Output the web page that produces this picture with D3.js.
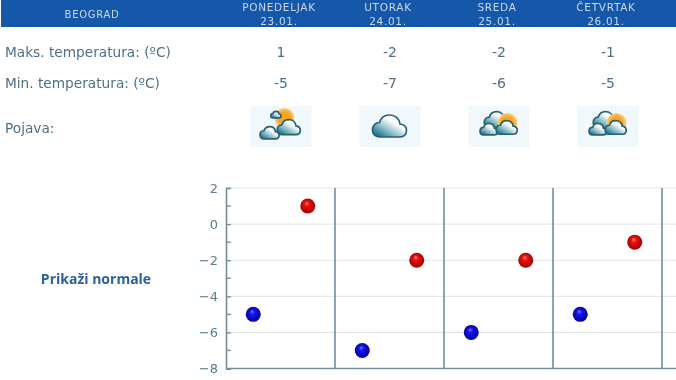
<!DOCTYPE html>
<html>
<head>
<meta charset="utf-8">
<script src="https://cdn.jsdelivr.net/npm/d3@7"></script>
<style>
    html, body { margin: 0; padding: 0; background: #fff; overflow: hidden; }
    svg { display: block; filter: blur(0.4px); }
    text { font-family: "DejaVu Sans", sans-serif; }
</style>
</head>
<body>
<div id="chart-container"></div>
<script>
// Data
const city = 'BEOGRAD';
const days = ['PONEDELJAK', 'UTORAK', 'SREDA', 'ČETVRTAK'];
const dates = ['23.01.', '24.01.', '25.01.', '26.01.'];
const maxTemps = [1, -2, -2, -1];
const minTemps = [-5, -7, -6, -5];
const icons = ['small', 'cloud', 'sun', 'sun'];
const rowLabels = ['Maks. temperatura: (ºC)', 'Min. temperatura: (ºC)', 'Pojava:'];
const yTicks = [2, 0, -2, -4, -6, -8];
const yMinorTicks = [1, -1, -3, -5, -7];

function createChart(elementId) {
    const width = 676;
    const height = 380;

    const svg = d3.select(elementId)
        .append('svg')
        .attr('width', width)
        .attr('height', height);

    const defs = svg.append('defs');

    // Gradients for the dots and the weather icons
    function ball(id, light, mid, dark) {
        const grad = defs.append('radialGradient')
            .attr('id', id)
            .attr('cx', '50%').attr('cy', '50%').attr('r', '55%')
            .attr('fx', '42%').attr('fy', '30%');
        grad.append('stop').attr('offset', '0%').attr('stop-color', light);
        grad.append('stop').attr('offset', '30%').attr('stop-color', mid);
        grad.append('stop').attr('offset', '100%').attr('stop-color', dark);
    }
    ball('ball-red', '#ff8a7a', '#ee1010', '#980000');
    ball('ball-blue', '#7a7aff', '#1414ee', '#000090');

    const cloudGrad = defs.append('linearGradient')
        .attr('id', 'cloud-fill')
        .attr('x1', '10%').attr('y1', '95%').attr('x2', '75%').attr('y2', '25%');
    cloudGrad.append('stop').attr('offset', '0%').attr('stop-color', '#0b6f86');
    cloudGrad.append('stop').attr('offset', '45%').attr('stop-color', '#8fc0cc');
    cloudGrad.append('stop').attr('offset', '85%').attr('stop-color', '#ffffff');

    const sunGrad = defs.append('radialGradient').attr('id', 'sun-fill');
    sunGrad.append('stop').attr('offset', '60%').attr('stop-color', '#f5a623');
    sunGrad.append('stop').attr('offset', '100%').attr('stop-color', '#fbd28a');

    // Shared scales, the table columns sit on the same bands as the plot
    const xScale = d3.scaleBand()
        .domain(days)
        .range([226, 662]);

    const yScale = d3.scaleLinear()
        .domain([-8, 2])
        .range([368.5, 188]);

    // Header strip
    svg.append('rect')
        .attr('x', 1)
        .attr('y', 0)
        .attr('width', width - 1)
        .attr('height', 27)
        .attr('fill', '#1557a8');

    svg.append('text')
        .attr('x', 92)
        .attr('y', 18)
        .attr('text-anchor', 'middle')
        .attr('fill', '#c9d8ea')
        .style('font-size', '10px')
        .style('letter-spacing', '0.7px')
        .text(city);

    const header = svg.selectAll('.day')
        .data(days)
        .enter()
        .append('text')
        .attr('class', 'day')
        .attr('text-anchor', 'middle')
        .attr('fill', '#c9d8ea')
        .style('font-size', '10.5px')
        .style('letter-spacing', '0.7px');

    header.append('tspan')
        .attr('x', d => xScale(d) + xScale.bandwidth() / 2 - 1.5)
        .attr('y', 11)
        .text(d => d);

    header.append('tspan')
        .attr('x', d => xScale(d) + xScale.bandwidth() / 2 - 1.5)
        .attr('y', 25)
        .text((d, i) => dates[i]);

    // Table rows
    const rowY = [57, 88, 133];
    svg.selectAll('.row-label')
        .data(rowLabels)
        .enter()
        .append('text')
        .attr('class', 'row-label')
        .attr('x', 5)
        .attr('y', (d, i) => rowY[i])
        .attr('fill', '#4f6f86')
        .style('font-size', '13.7px')
        .text(d => d);

    [maxTemps, minTemps].forEach((values, r) => {
        svg.selectAll(`.value-${r}`)
            .data(values)
            .enter()
            .append('text')
            .attr('class', `value-${r}`)
            .attr('x', (d, i) => xScale(days[i]) + xScale.bandwidth() / 2 + 0.5)
            .attr('y', rowY[r])
            .attr('text-anchor', 'middle')
            .attr('fill', '#4f6f86')
            .style('font-size', '14px')
            .text(d => d);
    });

    // Weather icons
    const cloudPath = 'M8 23C3 23 1 19.5 1 16C1 11.5 4 8.5 8 8.5C9.5 3.5 13 1 18 1C24 1 28 5 28.5 10C32.5 10.5 35 13 35 16.5C35 20.5 32 23 28 23Z';

    function drawCloud(g, x, y, scale) {
        g.append('path')
            .attr('d', cloudPath)
            .attr('transform', `translate(${x},${y}) scale(${scale})`)
            .attr('fill', 'url(#cloud-fill)')
            .attr('stroke', '#2c5f70')
            .attr('stroke-width', 1.7 / scale);
    }

    function drawSun(g, x, y, r) {
        g.append('circle')
            .attr('cx', x)
            .attr('cy', y)
            .attr('r', r)
            .attr('fill', 'url(#sun-fill)');
    }

    const iconGroups = svg.selectAll('.icon')
        .data(icons)
        .enter()
        .append('g')
        .attr('class', 'icon')
        .attr('transform', (d, i) => `translate(${xScale(days[i]) + xScale.bandwidth() / 2 + 0.5 - 30.5},106)`);

    iconGroups.append('rect')
        .attr('width', 61)
        .attr('height', 41)
        .attr('fill', '#f0f8fb');

    iconGroups.each(function(d) {
        const g = d3.select(this);
        if (d === 'cloud') {
            drawCloud(g, 12, 8, 1);
        } else if (d === 'small') {
            drawSun(g, 34, 12, 10);
            drawCloud(g, 20, 5, 0.3);
            drawCloud(g, 26, 13, 0.68);
            drawCloud(g, 9, 20, 0.56);
        } else {
            drawCloud(g, 15, 5, 0.72);
            drawSun(g, 39, 17, 10);
            drawCloud(g, 11, 17, 0.52);
            drawCloud(g, 27, 14, 0.62);
        }
    });

    // Link on the left of the plot
    svg.append('text')
        .attr('x', 96)
        .attr('y', 284)
        .attr('text-anchor', 'middle')
        .attr('fill', '#2a6299')
        .style('font-size', '14px')
        .style('font-weight', 'bold')
        .style('font-family', '"Open Sans", sans-serif')
        .text('Prikaži normale');

    // Gridlines
    svg.selectAll('.grid')
        .data(yTicks)
        .enter()
        .append('line')
        .attr('class', 'grid')
        .attr('x1', xScale.range()[0])
        .attr('x2', width)
        .attr('y1', d => yScale(d))
        .attr('y2', d => yScale(d))
        .attr('stroke', '#dde4e8')
        .attr('stroke-width', 1);

    // Day dividers
    svg.selectAll('.divider')
        .data(days)
        .enter()
        .append('line')
        .attr('class', 'divider')
        .attr('x1', d => xScale(d) + xScale.bandwidth())
        .attr('x2', d => xScale(d) + xScale.bandwidth())
        .attr('y1', yScale(2))
        .attr('y2', yScale(-8))
        .attr('stroke', '#6f8ea3')
        .attr('stroke-width', 1.6);

    // Bottom line
    svg.append('line')
        .attr('x1', xScale.range()[0])
        .attr('x2', width)
        .attr('y1', yScale(-8))
        .attr('y2', yScale(-8))
        .attr('stroke', '#6f8ea3')
        .attr('stroke-width', 1.6);

    // Y axis, ticks point into the plot
    const yAxis = svg.append('g')
        .attr('class', 'y-axis')
        .attr('transform', `translate(${xScale.range()[0]},0)`)
        .call(d3.axisLeft(yScale).tickValues(yTicks).tickSize(-5).tickPadding(8));

    yAxis.selectAll('.domain').attr('stroke', '#6f8ea3').attr('stroke-width', 1.6);
    yAxis.selectAll('line').attr('stroke', '#6f8ea3').attr('stroke-width', 1.3);
    yAxis.selectAll('text')
        .attr('fill', '#5b7b92')
        .style('font-size', '13px')
        .style('font-family', '"DejaVu Sans", sans-serif');

    svg.selectAll('.minor')
        .data(yMinorTicks)
        .enter()
        .append('line')
        .attr('class', 'minor')
        .attr('x1', xScale.range()[0])
        .attr('x2', xScale.range()[0] + 5)
        .attr('y1', d => yScale(d))
        .attr('y2', d => yScale(d))
        .attr('stroke', '#6f8ea3')
        .attr('stroke-width', 1.3);

    // Dots: min in the first half of each day, max in the second
    svg.selectAll('.dot-min')
        .data(minTemps)
        .enter()
        .append('circle')
        .attr('class', 'dot-min')
        .attr('cx', (d, i) => xScale(days[i]) + xScale.bandwidth() * 0.25)
        .attr('cy', d => yScale(d))
        .attr('r', 7.5)
        .attr('fill', 'url(#ball-blue)');

    svg.selectAll('.dot-max')
        .data(maxTemps)
        .enter()
        .append('circle')
        .attr('class', 'dot-max')
        .attr('cx', (d, i) => xScale(days[i]) + xScale.bandwidth() * 0.75)
        .attr('cy', d => yScale(d))
        .attr('r', 7.5)
        .attr('fill', 'url(#ball-red)');
}

createChart('#chart-container');
</script>
</body>
</html>
